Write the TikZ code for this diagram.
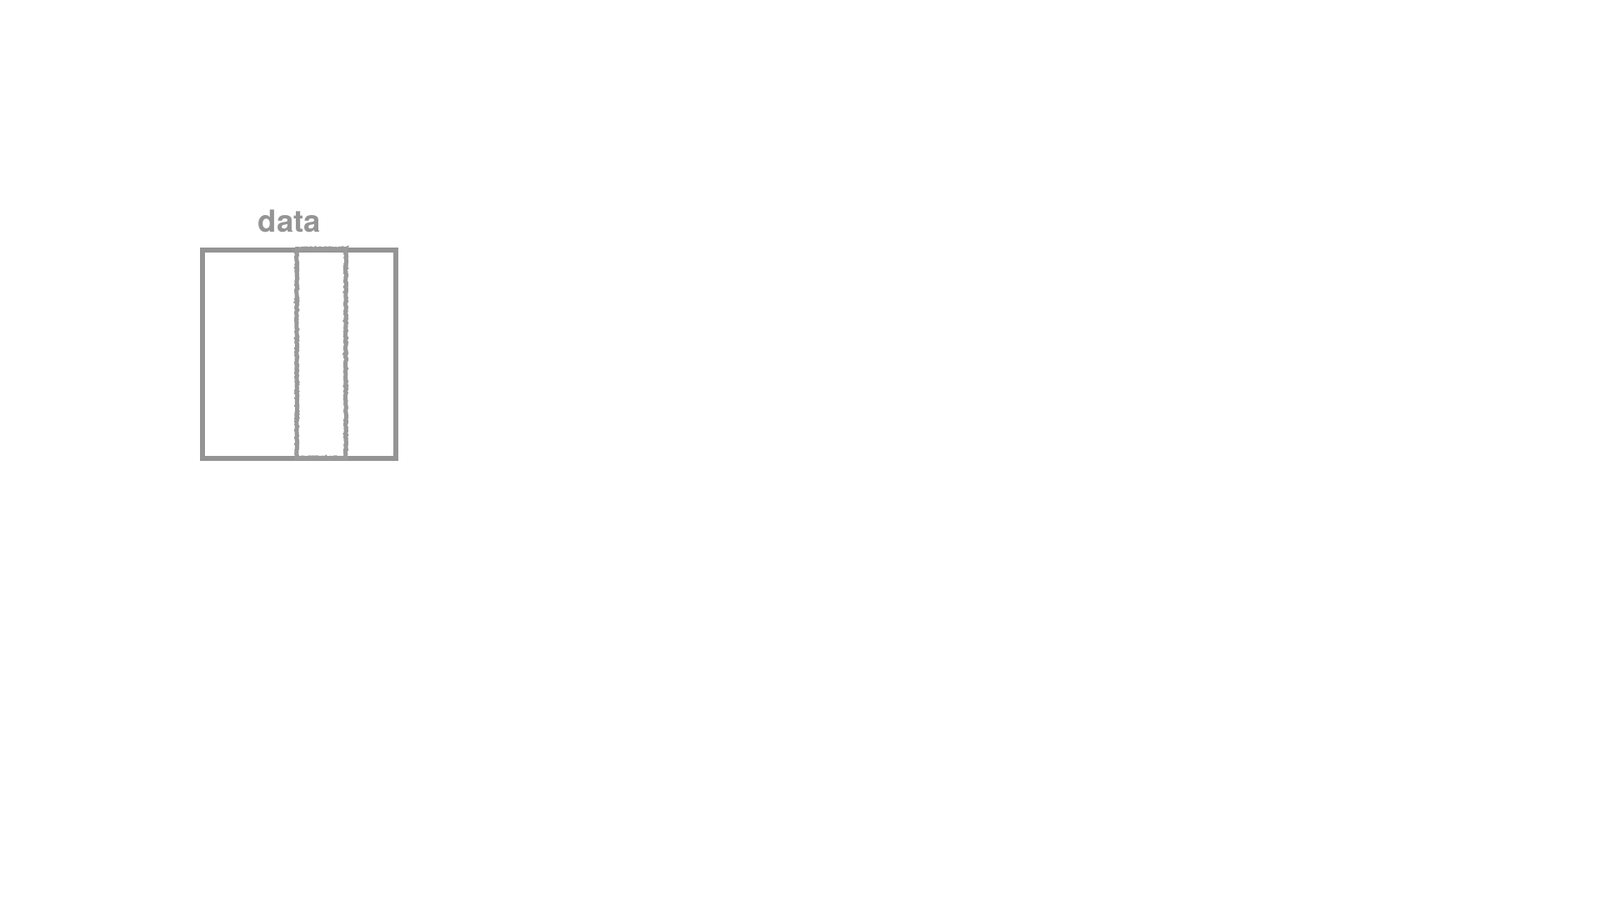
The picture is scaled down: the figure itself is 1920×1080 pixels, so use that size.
\documentclass[tikz,border=0pt]{standalone}
\usepackage{fontspec}
\setmainfont{TeX Gyre Heros}
\usetikzlibrary{decorations.pathmorphing}
\definecolor{boxgray}{HTML}{949494}
\definecolor{stripgray}{HTML}{9A9A9A}
\begin{document}
\begin{tikzpicture}[x=1pt,y=-1pt,
  outerbox/.style={draw=boxgray,line width=6pt},
  stripbox/.style={draw=stripgray,line width=5pt,decorate,decoration={random steps,segment length=1.5pt,amplitude=0.7pt}},
  label/.style={text=boxgray,font=\bfseries\fontsize{36.5}{40}\selectfont,inner sep=0pt,anchor=base}]
\useasboundingbox (0,0) rectangle (1920,1080);
\node[outerbox,minimum width=231.9pt,minimum height=249.7pt,inner sep=0pt,anchor=north west] (data) at (240.3,297) {};
\node[stripbox,minimum width=58.8pt,minimum height=251pt,inner sep=0pt,anchor=north west] (strip) at (353.7,296) {};
\node[label] (title) at (347.5,278.3) {data};
\end{tikzpicture}
\end{document}
